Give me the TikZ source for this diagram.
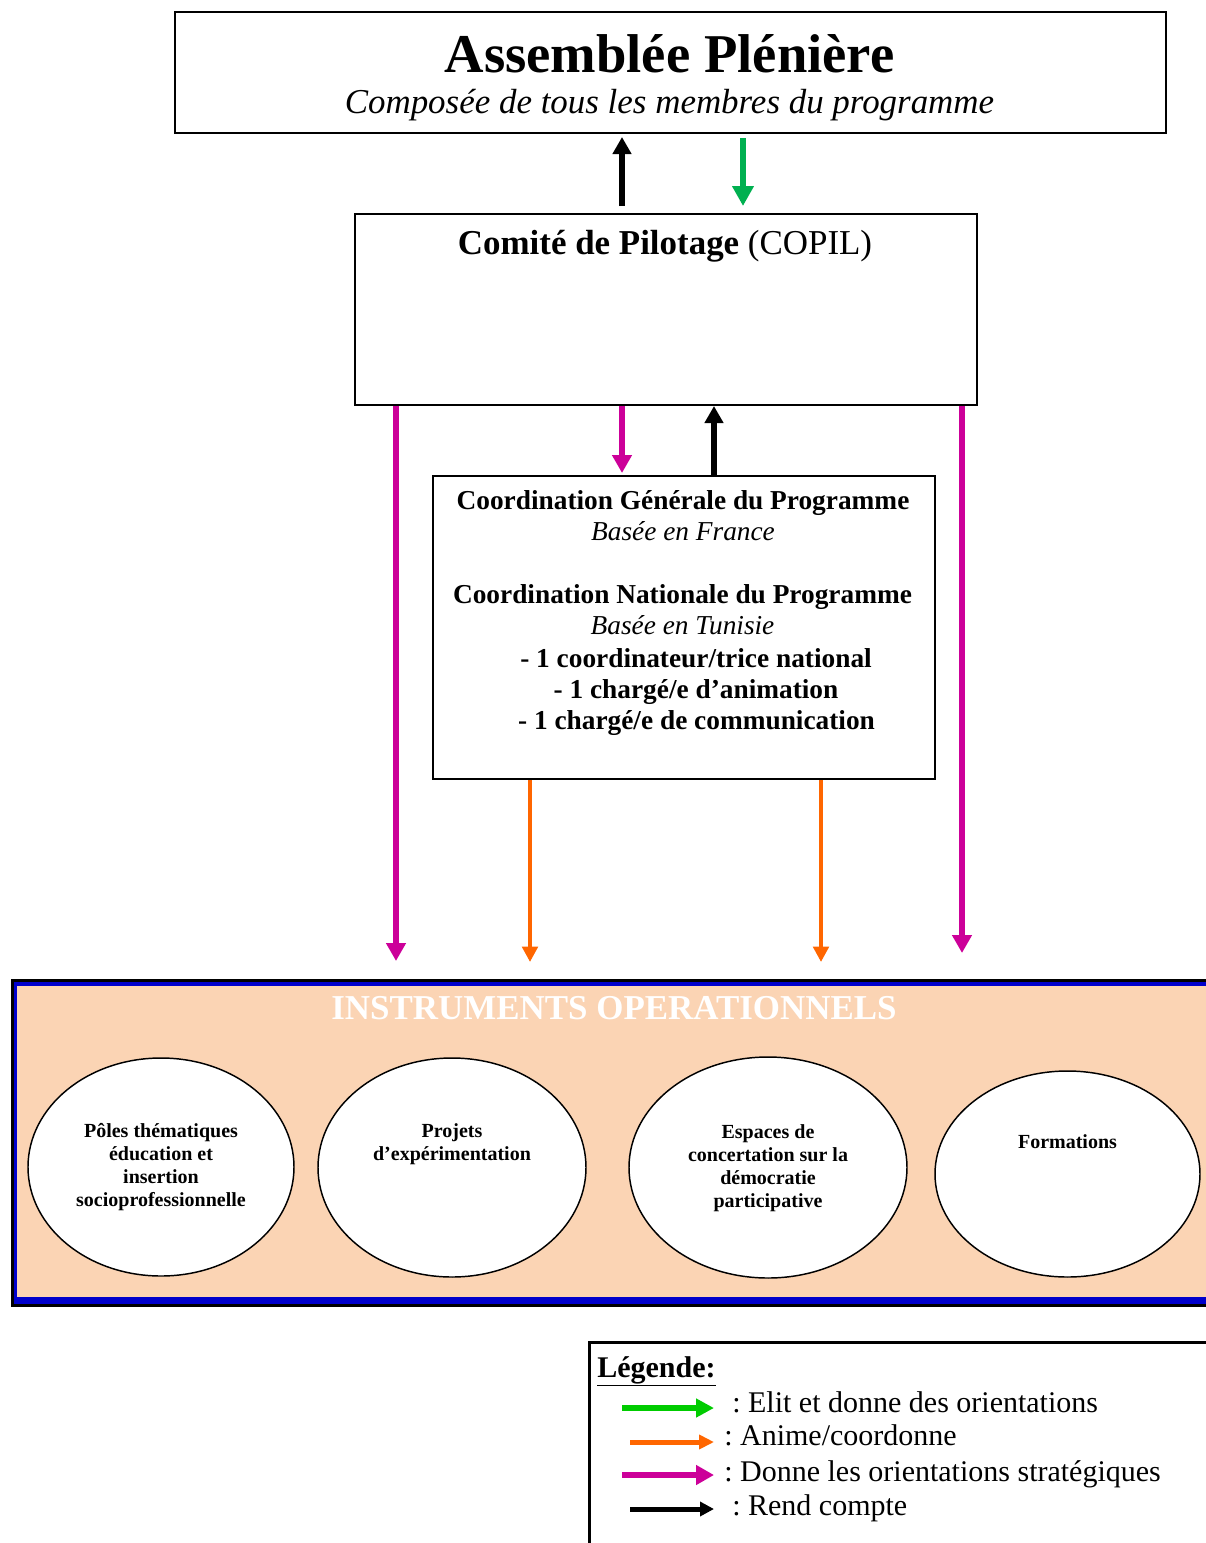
\documentclass[tikz,border=0pt]{standalone}
\usepackage{fontspec}
\setmainfont{Liberation Serif}
\usetikzlibrary{arrows.meta,shapes.geometric}
\definecolor{cgreen}{HTML}{00B050}
\definecolor{lgreen}{HTML}{00CC00}
\definecolor{cmag}{HTML}{CC0099}
\definecolor{corange}{HTML}{FF6600}
\definecolor{cblue}{HTML}{0000CC}
\definecolor{cpeach}{HTML}{FBD4B4}
\frenchspacing
\begin{document}
\begin{tikzpicture}[x=0.75pt,y=-0.75pt,
  box/.style={draw, line width=1.5pt, inner sep=0pt, anchor=north west},
  txt/.style={anchor=base, inner sep=0pt},
  ell/.style={ellipse, draw, fill=white, line width=1.1pt, inner sep=0pt},
  etxt/.style={txt, font=\bfseries\fontsize{15}{17}\selectfont},
  ctxt/.style={txt, font=\bfseries\fontsize{20.5}{24}\selectfont},
  citxt/.style={txt, font=\itshape\fontsize{20.5}{24}\selectfont},
  ltxt/.style={txt, anchor=base west, font=\fontsize{22.5}{26}\selectfont},
  arrK/.style={draw=black, line width=4pt, -{Triangle[width=13.5pt,length=12.75pt]}},
  arrG/.style={draw=cgreen, line width=4.1pt, -{Triangle[width=15.5pt,length=15pt]}},
  arrM/.style={draw=cmag, line width=4pt, -{Triangle[width=14.25pt,length=13.5pt]}},
  arrO/.style={draw=corange, line width=3.6pt, -{Triangle[width=11.5pt,length=11.5pt]}},
  lgG/.style={draw=lgreen, line width=4.5pt, -{Triangle[width=13.5pt,length=13.5pt]}},
  lgO/.style={draw=corange, line width=3.75pt, -{Triangle[width=10.5pt,length=11.25pt]}},
  lgM/.style={draw=cmag, line width=4.5pt, -{Triangle[width=14.25pt,length=13.5pt]}},
  lgK/.style={draw=black, line width=3.75pt, -{Triangle[width=10.5pt,length=10.5pt]}}
]
\useasboundingbox (0,0) rectangle (1206,1543);

% Assemblée plénière
\node[box, minimum width=743.25pt, minimum height=90.75pt] (ap) at (174,11) {};
\node[txt, font=\bfseries\fontsize{41}{48}\selectfont] (apt) at (669.5,72) {Assemblée Plénière};
\node[txt, font=\itshape\fontsize{26.2}{30}\selectfont] (aps) at (669.5,113) {Composée de tous les membres du programme};

% COPIL
\node[box, minimum width=466.5pt, minimum height=143.25pt] (copil) at (354,213) {};
\node[txt, font=\fontsize{26.2}{30}\selectfont] (copilt) at (665,254) {\textbf{Comité de Pilotage} (COPIL)};

% Coordination
\node[box, minimum width=376.5pt, minimum height=227.25pt] (coord) at (432,475) {};
\node[ctxt] (c1) at (683,509) {Coordination Générale du Programme};
\node[citxt] (c2) at (683,540) {Basée en France};
\node[ctxt] (c3) at (682.5,603) {Coordination Nationale du Programme};
\node[citxt] (c4) at (682.5,634) {Basée en Tunisie};
\node[ctxt] (c5) at (696,667) {- 1 coordinateur/trice national};
\node[ctxt] (c6) at (696,698) {- 1 chargé/e d’animation};
\node[ctxt] (c7) at (696.5,729) {- 1 chargé/e de communication};

% Instruments
\node[draw=black, fill=cblue, line width=2.25pt, anchor=north west, inner sep=0pt,
      minimum width=907pt, minimum height=244.1pt] (instrframe) at (10.5,978.5) {};
\node[fill=cpeach, anchor=north west, inner sep=0pt,
      minimum width=902.25pt, minimum height=233.25pt] (instr) at (17,986) {};
\node[txt, text=white, font=\bfseries\fontsize{26.2}{30}\selectfont] (instrt) at (614,1019) {INSTRUMENTS OPERATIONNELS};

\node[ell, minimum width=199.5pt, minimum height=163.5pt] (e1) at (161,1167) {};
\node[ell, minimum width=201pt, minimum height=164.25pt] (e2) at (452,1167.5) {};
\node[ell, minimum width=208.5pt, minimum height=165.75pt] (e3) at (768,1167.5) {};
\node[ell, minimum width=198.75pt, minimum height=154.5pt] (e4) at (1067.5,1174) {};

\node[etxt] (e1a) at (161,1137.5) {Pôles thématiques};
\node[etxt] (e1b) at (161,1160.5) {éducation et};
\node[etxt] (e1c) at (161,1183.5) {insertion};
\node[etxt] (e1d) at (161,1206.5) {socioprofessionnelle};
\node[etxt] (e2a) at (452,1137.5) {Projets};
\node[etxt] (e2b) at (452,1160.5) {d’expérimentation};
\node[etxt] (e3a) at (768,1138.5) {Espaces de};
\node[etxt] (e3b) at (768,1161.5) {concertation sur la};
\node[etxt] (e3c) at (768,1184) {démocratie};
\node[etxt] (e3d) at (768,1207) {participative};
\node[etxt] (e4a) at (1067.5,1148) {Formations};

% x positions of connectors
\coordinate (x396) at (396,0);
\coordinate (x530) at (530,0);
\coordinate (x622) at (622,0);
\coordinate (x714) at (714,0);
\coordinate (x743) at (743,0);
\coordinate (x821) at (821,0);
\coordinate (x962) at (962,0);
\coordinate (tipM1) at (396,961);
\coordinate (tipO1) at (530,962);
\coordinate (tipO2) at (821,962);
\coordinate (tipM2) at (962,953);

% connectors
\draw[arrK, shorten <=5.25pt, shorten >=2.25pt] (copil.north -| x622) -- (ap.south -| x622);
\draw[arrG, shorten <=3pt, shorten >=5.25pt] (ap.south -| x743) -- (copil.north -| x743);
\draw[arrM, shorten >=1.5pt] (copil.south -| x622) -- (coord.north -| x622);
\draw[arrK] (coord.north -| x714) -- (copil.south -| x714);
\draw[arrM] (copil.south -| x396) -- (tipM1);
\draw[arrM] (copil.south -| x962) -- (tipM2);
\draw[arrO] (coord.south -| x530) -- (tipO1);
\draw[arrO] (coord.south -| x821) -- (tipO2);

% Legend
\node[draw, line width=1.9pt, anchor=north west, inner sep=0pt,
      minimum width=474pt, minimum height=164.25pt] (leg) at (588,1341) {};
\node[ltxt, font=\bfseries\fontsize{22.5}{26}\selectfont] (legt) at (597,1377) {\underline{Légende:}};
\coordinate (lg1a) at (622,1408); \coordinate (lg1b) at (714,1408);
\coordinate (lg2a) at (630,1442); \coordinate (lg2b) at (714,1442);
\coordinate (lg3a) at (622,1475); \coordinate (lg3b) at (714,1475);
\coordinate (lg4a) at (630,1509); \coordinate (lg4b) at (714,1509);
\draw[lgG] (lg1a) -- (lg1b);
\draw[lgO] (lg2a) -- (lg2b);
\draw[lgM] (lg3a) -- (lg3b);
\draw[lgK] (lg4a) -- (lg4b);
\node[ltxt] (l1) at (732,1412) {: Elit et donne des orientations};
\node[ltxt] (l2) at (724,1445) {: Anime/coordonne};
\node[ltxt] (l3) at (724,1481) {: Donne les orientations stratégiques};
\node[ltxt] (l4) at (732,1515) {: Rend compte};
\end{tikzpicture}
\end{document}
